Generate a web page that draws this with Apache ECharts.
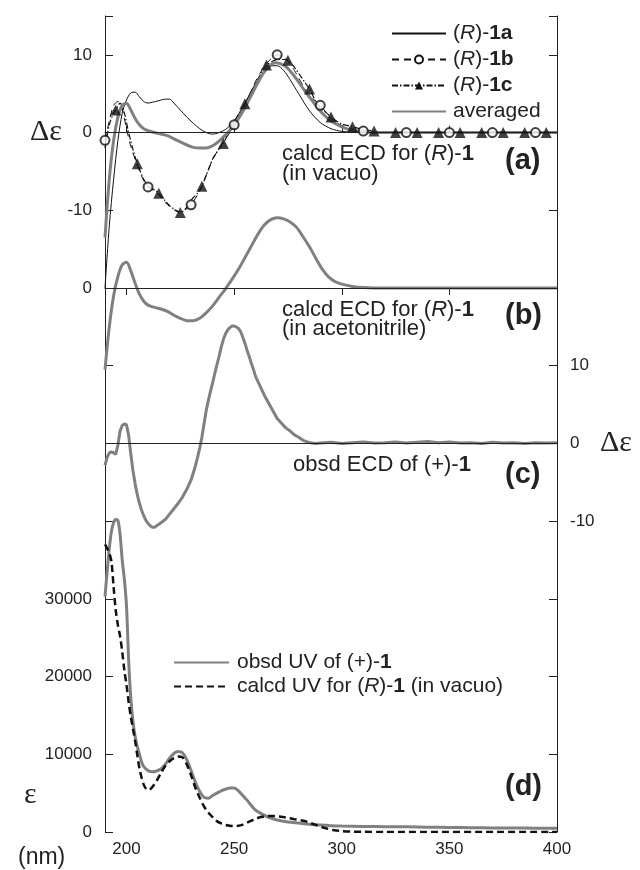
<!DOCTYPE html>
<html>
<head>
<meta charset="utf-8">
<script src="https://cdn.jsdelivr.net/npm/echarts@6/dist/echarts.min.js"></script>
<style>
  html, body { margin: 0; padding: 0; background: #fff; }
  #main { width: 640px; height: 870px; }
</style>
</head>
<body>
<div id="main"></div>
<script>
// x ticks (nm)
const xTicks = [200, 250, 300, 350, 400]

// (a) calcd ECD in vacuo, three conformers + average  [nm, Δε]
const ecd1a = [[190,-20],[192,-12],[194,-6],[196,-1],[198,2.5],[200,4.2],[202,5.1],[204,5.2],[206,4.6],[208,4.0],[210,3.8],[212,3.9],[215,4.1],[218,4.3],[220,4.3],[222,3.8],[225,2.9],[228,2.0],[231,1.2],[234,0.5],[237,0.0],[240,-0.2],[243,0.0],[246,0.4],[250,1.5],[255,3.8],[260,6.3],[265,8.1],[268,8.6],[270,8.6],[273,8.0],[276,6.8],[280,5.0],[285,2.8],[290,1.3],[295,0.5],[300,0.15],[305,0.05],[310,0],[400,0]]
const ecd1b = [[190,-1.0],[192,1.5],[194,3.5],[196,4.0],[198,3.0],[200,0.5],[202,-1.8],[205,-4.2],[208,-6.2],[210,-7.0],[213,-7.6],[215,-8.0],[218,-9.0],[220,-9.5],[223,-10.1],[225,-10.2],[228,-9.8],[230,-9.3],[233,-8.0],[235,-6.9],[238,-4.8],[240,-3.5],[243,-2.0],[245,-1.2],[248,0],[250,1.0],[253,2.5],[255,3.7],[258,5.4],[260,6.6],[263,8.1],[265,8.9],[268,9.7],[270,10.0],[273,9.7],[275,9.2],[278,8.0],[280,7.0],[283,5.6],[285,4.8],[288,4.0],[290,3.5],[293,2.5],[295,1.9],[298,1.2],[300,0.9],[305,0.5],[310,0.2],[315,0.1],[320,0],[330,0],[350,0],[370,0],[390,0],[400,0]]
const ecd1c = [[190,-2],[192,1.0],[194,2.5],[195,2.9],[197,3.8],[199,2.5],[201,0],[203,-2.2],[205,-4.0],[208,-6.0],[210,-6.8],[213,-7.4],[215,-7.8],[218,-8.8],[220,-9.4],[223,-10.0],[225,-10.3],[228,-9.6],[230,-8.7],[233,-7.8],[235,-6.9],[238,-4.8],[240,-3.4],[243,-2.1],[245,-1.4],[248,0.4],[250,1.4],[253,2.7],[255,3.7],[258,5.2],[260,6.3],[263,7.9],[265,8.7],[268,9.2],[270,9.4],[273,9.4],[275,9.3],[278,8.4],[280,7.6],[283,6.4],[285,5.6],[288,4.0],[290,3.2],[293,2.5],[295,2.0],[298,1.4],[300,1.1],[305,0.75],[310,0.4],[315,0.2],[320,0.05],[325,0],[335,0],[345,0],[355,0],[365,0],[375,0],[385,0],[395,0],[400,0]]
const ecdAvg = [[190,-13.5],[192,-6],[194,-1],[196,2],[198,3.5],[200,3.75],[202,2.9],[204,1.8],[206,1.0],[208,0.5],[210,0.25],[213,0],[216,-0.2],[219,-0.4],[222,-0.8],[225,-1.2],[228,-1.6],[231,-1.9],[234,-2.0],[237,-2.0],[240,-1.7],[243,-1.1],[246,-0.3],[249,0.6],[252,1.8],[255,3.2],[258,4.8],[261,6.4],[264,7.8],[267,8.7],[269,9.0],[271,8.9],[274,8.5],[277,7.6],[280,6.5],[283,5.3],[286,4.2],[289,3.1],[292,2.2],[295,1.5],[298,1.0],[301,0.6],[305,0.3],[310,0.1],[315,0],[400,0]]
// marker positions
const marks1b = [190, 210, 230, 250, 270, 290, 310, 330, 350, 370, 390]
const marks1c = [195, 205, 215, 225, 235, 245, 255, 265, 275, 285, 295, 305, 315, 325, 335, 345, 355, 365, 375, 385, 395]

// (b) calcd ECD in acetonitrile
const ecdMeCN = [[190,-10.5],[192,-5],[194,-1],[196,1.5],[198,3.0],[200,3.3],[202,2.2],[204,0.6],[206,-0.8],[208,-1.7],[210,-2.2],[213,-2.5],[216,-2.7],[219,-3.0],[222,-3.5],[225,-3.9],[228,-4.2],[231,-4.2],[234,-3.9],[237,-3.2],[240,-2.3],[243,-1.2],[246,-0.1],[249,1.1],[252,2.4],[255,3.9],[258,5.4],[261,6.9],[264,8.1],[267,8.8],[270,9.05],[273,8.9],[276,8.5],[279,7.8],[282,6.6],[285,5.3],[288,3.8],[291,2.4],[294,1.4],[297,0.8],[300,0.5],[305,0.2],[310,0.05],[315,0],[400,0]]

// (c) observed ECD
const ecdObs = [[190,-2.8],[191,-1.8],[192,-1.2],[193,-1.1],[194,-1.2],[195,-1.4],[196,-0.2],[197,1.6],[198,2.3],[199,2.5],[200,2.4],[201,1.0],[202,-1.4],[203,-3.5],[204,-5.2],[205,-6.6],[206,-7.7],[207,-8.6],[208,-9.3],[209,-9.9],[210,-10.3],[211,-10.6],[212,-10.8],[213,-10.8],[214,-10.6],[215,-10.4],[216,-10.2],[218,-9.8],[220,-9.1],[222,-8.4],[224,-7.7],[226,-6.9],[228,-5.9],[230,-4.7],[232,-2.9],[233,-1.8],[234,-0.6],[235,0.8],[236,2.5],[237,4.2],[238,5.5],[239,6.7],[240,7.8],[241,9.0],[242,10.1],[243,11.2],[244,12.4],[245,13.4],[246,14.1],[247,14.6],[248,14.9],[249,15.1],[250,15.1],[251,15.0],[252,14.8],[253,14.4],[254,13.7],[255,12.9],[256,12.0],[257,11.2],[258,10.3],[259,9.5],[260,8.6],[262,7.4],[264,6.2],[266,5.2],[268,4.2],[270,3.2],[272,2.6],[274,2.0],[276,1.6],[278,1.1],[280,0.8],[282,0.4],[284,0.2],[286,0.05],[288,0],[290,0.05],[295,0.15],[300,0],[305,0.1],[310,0.2],[315,0.05],[320,0.1],[325,0.2],[330,0.05],[335,0.15],[340,0.25],[345,0.1],[350,0.2],[355,0.05],[360,0.1],[365,0],[370,0.15],[375,0.05],[380,0.1],[385,0],[390,0.1],[395,0.05],[400,0.1]]

// (d) UV  [nm, ε]
const uvObs = [[190,30300],[191,33500],[192,36500],[193,38700],[194,39800],[195,40200],[196,40100],[197,38300],[198,35000],[199,32500],[200,29000],[201,22000],[202,17200],[203,14200],[204,12300],[205,11000],[206,10000],[207,9000],[208,8400],[210,7900],[212,7750],[214,7850],[216,8100],[218,8700],[220,9500],[222,10100],[224,10350],[226,10200],[228,9300],[230,7900],[232,6400],[234,5200],[236,4450],[238,4350],[240,4700],[242,5000],[244,5300],[246,5500],[248,5650],[250,5650],[252,5300],[254,4700],[256,4100],[258,3400],[260,2800],[263,2300],[266,1900],[270,1550],[275,1300],[280,1150],[285,1000],[290,900],[295,820],[300,770],[310,720],[320,690],[330,660],[340,620],[350,590],[360,560],[370,530],[380,510],[390,490],[400,470]]
const uvCalc = [[190,37000],[191,36500],[192,35900],[193,34800],[194,31500],[195,28500],[196,26600],[197,25200],[198,23200],[199,20800],[200,18900],[201,16700],[202,14800],[203,13300],[204,11700],[205,9900],[206,8200],[207,7000],[208,6100],[209,5600],[210,5400],[211,5500],[212,5800],[214,6600],[216,7600],[218,8500],[220,9100],[222,9500],[224,9700],[226,9600],[228,8700],[230,7300],[232,5700],[234,4400],[236,3300],[238,2500],[240,1900],[242,1400],[244,1100],[246,900],[248,800],[250,760],[252,800],[254,950],[256,1200],[258,1450],[260,1700],[263,1950],[266,2050],[269,2050],[272,1950],[275,1800],[278,1650],[281,1500],[284,1300],[287,1000],[290,700],[293,450],[296,250],[300,120],[305,50],[310,20],[320,0],[400,0]]

const FONT = '"Liberation Sans", Arial, Helvetica, sans-serif'
const SERIF = '"Liberation Serif", "Times New Roman", serif'
const INK = '#222'
const GRAY = '#808080'

const rich = {
  i: { fontFamily: FONT, fontSize: 21, fontStyle: 'italic', color: INK },
  b: { fontFamily: FONT, fontSize: 21, fontWeight: 'bold', color: INK },
}
const richBig = {
  i: { fontFamily: FONT, fontSize: 22, fontStyle: 'italic', fill: INK },
  b: { fontFamily: FONT, fontSize: 22, fontWeight: 'bold', fill: INK },
}
const legendNames = {
  R1a: '({i|R})-{b|1a}',
  R1b: '({i|R})-{b|1b}',
  R1c: '({i|R})-{b|1c}',
  averaged: 'averaged',
  uvObs: 'obsd UV of (+)-{b|1}',
  uvCalc: 'calcd UV for ({i|R})-{b|1} (in vacuo)',
}
// plain line in legend: hide the symbol
const noMark = { opacity: 0 }

const pick = (arr, xs) => arr.filter(p => xs.indexOf(p[0]) >= 0)

const zeroLine = {
  silent: true,
  symbol: 'none',
  label: { show: false },
  lineStyle: { color: INK, width: 1, type: 'solid' },
  data: [{ yAxis: 0 }],
}

const myChart = echarts.init(document.getElementById('main'))

myChart.setOption({
  animation: false,
  backgroundColor: '#fff',
  grid: { left: 105, right: 83, top: 16, bottom: 38 },
  xAxis: [
    {
      type: 'value', min: 190, max: 400, position: 'bottom',
      splitLine: { show: false },
      axisLine: { lineStyle: { color: INK, width: 1 } },
      axisTick: { inside: true, length: 7, customValues: xTicks, lineStyle: { color: INK } },
      axisLabel: { customValues: xTicks, color: INK, fontSize: 17, fontFamily: FONT, margin: 9 },
    },
    {
      type: 'value', min: 190, max: 400, position: 'top',
      splitLine: { show: false },
      axisLine: { lineStyle: { color: INK, width: 1 } },
      axisTick: { inside: true, length: 7, customValues: xTicks, lineStyle: { color: INK } },
      axisLabel: { show: false },
    },
  ],
  yAxis: [
    { // (a)
      type: 'value', min: -90, max: 15, interval: 10, position: 'left',
      splitLine: { show: false },
      axisLine: { show: true, lineStyle: { color: INK, width: 1 } },
      axisTick: { inside: true, length: 8, lineStyle: { color: INK } },
      axisLabel: { customValues: [-10, 0, 10], color: INK, fontSize: 17, fontFamily: FONT, margin: 13 },
    },
    { // (b)
      type: 'value', min: -70, max: 35, interval: 10, position: 'left',
      splitLine: { show: false }, axisLine: { show: false }, axisTick: { show: false },
      axisLabel: { customValues: [0], color: INK, fontSize: 17, fontFamily: FONT, margin: 13 },
    },
    { // (c)
      type: 'value', min: -50, max: 55, interval: 10, position: 'right',
      splitLine: { show: false },
      axisLine: { show: true, lineStyle: { color: INK, width: 1 } },
      axisTick: { inside: true, length: 8, lineStyle: { color: INK } },
      axisLabel: { customValues: [-10, 0, 10], color: INK, fontSize: 17, fontFamily: FONT, margin: 13 },
    },
    { // (d)
      type: 'value', min: 0, max: 105000, interval: 10000, position: 'left',
      splitLine: { show: false }, axisLine: { show: false }, axisTick: { show: false },
      axisLabel: { customValues: [0, 10000, 20000, 30000], formatter: v => String(v), color: INK, fontSize: 17, fontFamily: FONT, margin: 13 },
    },
  ],
  legend: [
    {
      data: [
        { name: 'R1a', itemStyle: noMark },
        { name: 'R1b' },
        { name: 'R1c' },
        { name: 'averaged', itemStyle: noMark },
      ],
      orient: 'vertical', left: 386, top: 18, itemGap: 5,
      itemWidth: 54, itemHeight: 10,
      formatter: n => legendNames[n],
      textStyle: { fontFamily: FONT, fontSize: 21, color: INK, padding: [0, 0, 0, 2], rich: rich },
    },
    {
      data: [
        { name: 'uvObs', itemStyle: noMark },
        { name: 'uvCalc', itemStyle: noMark },
      ],
      orient: 'vertical', left: 168, top: 647, itemGap: 3,
      itemWidth: 55, itemHeight: 10,
      formatter: n => legendNames[n],
      textStyle: { fontFamily: FONT, fontSize: 21, color: INK, padding: [0, 0, 0, 3], rich: rich },
    },
  ],
  series: [
    {
      name: 'R1a', type: 'line', yAxisIndex: 0, data: ecd1a, smooth: 0.3,
      symbol: 'none', lineStyle: { color: '#111', width: 1 }, itemStyle: { color: '#111' },
    },
    {
      name: 'R1b', type: 'line', yAxisIndex: 0, data: ecd1b, smooth: 0.3,
      symbol: 'emptyCircle', showSymbol: false, symbolSize: 8,
      lineStyle: { color: '#111', width: 1, type: [7, 5] },
      itemStyle: { color: '#111' },
    },
    {
      name: 'R1c', type: 'line', yAxisIndex: 0, data: ecd1c, smooth: 0.3,
      symbol: 'triangle', showSymbol: false, symbolSize: 10,
      lineStyle: { color: '#111', width: 1.2, type: [6, 2, 1.5, 2] },
      itemStyle: { color: '#111' },
    },
    {
      name: 'averaged', type: 'line', yAxisIndex: 0, data: ecdAvg, smooth: 0.3,
      symbol: 'none', lineStyle: { color: GRAY, width: 3 }, itemStyle: { color: GRAY },
      markLine: zeroLine,
    },
    {
      name: 'R1b marks', type: 'scatter', yAxisIndex: 0, data: pick(ecd1b, marks1b),
      symbol: 'emptyCircle', symbolSize: 9, z: 5,
      itemStyle: { color: '#111', borderWidth: 1 },
    },
    {
      name: 'R1c marks', type: 'scatter', yAxisIndex: 0, data: pick(ecd1c, marks1c),
      symbol: 'triangle', symbolSize: 11, z: 5,
      itemStyle: { color: '#111' },
    },
    {
      name: 'acetonitrile', type: 'line', yAxisIndex: 1, data: ecdMeCN, smooth: 0.3,
      symbol: 'none', lineStyle: { color: GRAY, width: 3 }, markLine: zeroLine,
    },
    {
      name: 'obsd ECD', type: 'line', yAxisIndex: 2, data: ecdObs,
      symbol: 'none', lineStyle: { color: GRAY, width: 3 }, markLine: zeroLine,
    },
    {
      name: 'uvObs', type: 'line', yAxisIndex: 3, data: uvObs, smooth: 0.3,
      symbol: 'none', lineStyle: { color: GRAY, width: 3 }, itemStyle: { color: GRAY },
    },
    {
      name: 'uvCalc', type: 'line', yAxisIndex: 3, data: uvCalc, smooth: 0.3,
      symbol: 'none', lineStyle: { color: '#111', width: 2.5, type: [7, 4] }, itemStyle: { color: '#111' },
    },
  ],
  graphic: [
    { type: 'text', x: 30, y: 132, style: { text: 'Δε', font: '30px ' + SERIF, fill: INK, textVerticalAlign: 'middle' } },
    { type: 'text', x: 600, y: 443, style: { text: 'Δε', font: '30px ' + SERIF, fill: INK, textVerticalAlign: 'middle' } },
    { type: 'text', x: 24, y: 795, style: { text: 'ε', font: '30px ' + SERIF, fill: INK, textVerticalAlign: 'middle' } },
    { type: 'text', x: 18, y: 858, style: { text: '(nm)', font: '23px ' + FONT, fill: INK, textVerticalAlign: 'middle' } },

    { type: 'text', x: 282, y: 154, style: { text: 'calcd ECD for ({i|R})-{b|1}', font: '22px ' + FONT, fill: INK, textVerticalAlign: 'middle', rich: richBig } },
    { type: 'text', x: 282, y: 174, style: { text: '(in vacuo)', font: '22px ' + FONT, fill: INK, textVerticalAlign: 'middle' } },
    { type: 'text', x: 505, y: 161, style: { text: '(a)', font: 'bold 29px ' + FONT, fill: INK, textVerticalAlign: 'middle' } },

    { type: 'text', x: 282, y: 310, style: { text: 'calcd ECD for ({i|R})-{b|1}', font: '22px ' + FONT, fill: INK, textVerticalAlign: 'middle', rich: richBig } },
    { type: 'text', x: 282, y: 329, style: { text: '(in acetonitrile)', font: '22px ' + FONT, fill: INK, textVerticalAlign: 'middle' } },
    { type: 'text', x: 505, y: 316, style: { text: '(b)', font: 'bold 29px ' + FONT, fill: INK, textVerticalAlign: 'middle' } },

    { type: 'text', x: 293, y: 465, style: { text: 'obsd ECD of (+)-{b|1}', font: '22px ' + FONT, fill: INK, textVerticalAlign: 'middle', rich: richBig } },
    { type: 'text', x: 505, y: 475, style: { text: '(c)', font: 'bold 29px ' + FONT, fill: INK, textVerticalAlign: 'middle' } },

    { type: 'text', x: 505, y: 787, style: { text: '(d)', font: 'bold 29px ' + FONT, fill: INK, textVerticalAlign: 'middle' } },
  ],
})
</script>
</body>
</html>
